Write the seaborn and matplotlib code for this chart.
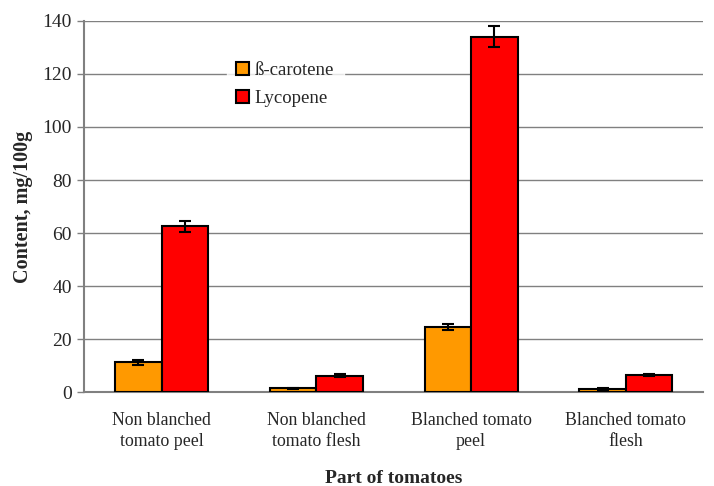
import numpy as np
import pandas as pd
import matplotlib.pyplot as plt
import seaborn as sns

categories = ['Non blanched\ntomato peel', 'Non blanched\ntomato flesh',
              'Blanched tomato\npeel', 'Blanched tomato\nflesh']
compounds = ['ß-carotene', 'Lycopene']
beta_carotene = [11.2, 1.5, 24.5, 1.2]
beta_err = [0.8, 0.2, 1.2, 0.2]
lycopene = [62.5, 6.2, 134.0, 6.5]
lycopene_err = [2.0, 0.5, 4.0, 0.4]
colors = ['#FF9900', '#FF0000']


def main():
    df = pd.DataFrame({
        'Part': categories * 2,
        'Compound': [compounds[0]] * 4 + [compounds[1]] * 4,
        'Content': beta_carotene + lycopene,
        'Err': beta_err + lycopene_err,
    })

    sns.set_style('white')
    plt.rcParams['font.family'] = ['Liberation Serif', 'DejaVu Serif']

    fig, ax = plt.subplots(figsize=(7.14, 4.86), dpi=100)
    sns.barplot(data=df, x='Part', y='Content', hue='Compound', palette=colors,
                width=0.6, errorbar=None, edgecolor='black', linewidth=1.5,
                saturation=1, ax=ax, zorder=3)

    # error bars at the bar centres
    for patch, (_, row) in zip(ax.patches, df.iterrows()):
        x = patch.get_x() + patch.get_width() / 2
        ax.errorbar(x, row['Content'], yerr=row['Err'], color='black',
                    capsize=4.5, elinewidth=1.5, capthick=1.5, zorder=4)

    ax.set_ylim(0, 140)
    ax.set_xlim(-0.5, 3.5)
    ax.set_yticks(np.arange(0, 141, 20))
    ax.yaxis.grid(True, color='#808080', linewidth=1)
    ax.set_axisbelow(True)

    ax.set_xticks(range(4))
    ax.set_xticklabels(categories, linespacing=1.35)
    ax.set_xticks(np.arange(-0.5, 4, 1), minor=True)
    ax.tick_params(axis='x', which='major', length=0, pad=14, labelsize=12.8)
    ax.tick_params(axis='x', which='minor', length=5, color='#808080', width=1)
    ax.tick_params(axis='y', length=5, color='#808080', width=1, labelsize=14,
                   left=True, pad=4)

    for side in ['top', 'right']:
        ax.spines[side].set_visible(False)
    for side in ['left', 'bottom']:
        ax.spines[side].set_color('#808080')
        ax.spines[side].set_linewidth(1.5)

    ax.set_xlabel('Part of tomatoes', fontsize=14, fontweight='bold', labelpad=14)
    ax.set_ylabel('Content, mg/100g', fontsize=14.5, fontweight='bold', labelpad=7)

    leg = ax.legend(loc='upper left', bbox_to_anchor=(0.215, 0.94), frameon=True,
                    fontsize=13.5, handlelength=0.7, handleheight=0.7,
                    handletextpad=0.3, labelspacing=0.6, borderpad=0.5,
                    fancybox=False)
    leg.get_frame().set_facecolor('white')
    leg.get_frame().set_edgecolor('white')
    leg.set_title(None)

    fig.subplots_adjust(left=0.118, right=0.985, top=0.957, bottom=0.193)
    fig.savefig('out.png', dpi=100)


if __name__ == '__main__':
    main()
